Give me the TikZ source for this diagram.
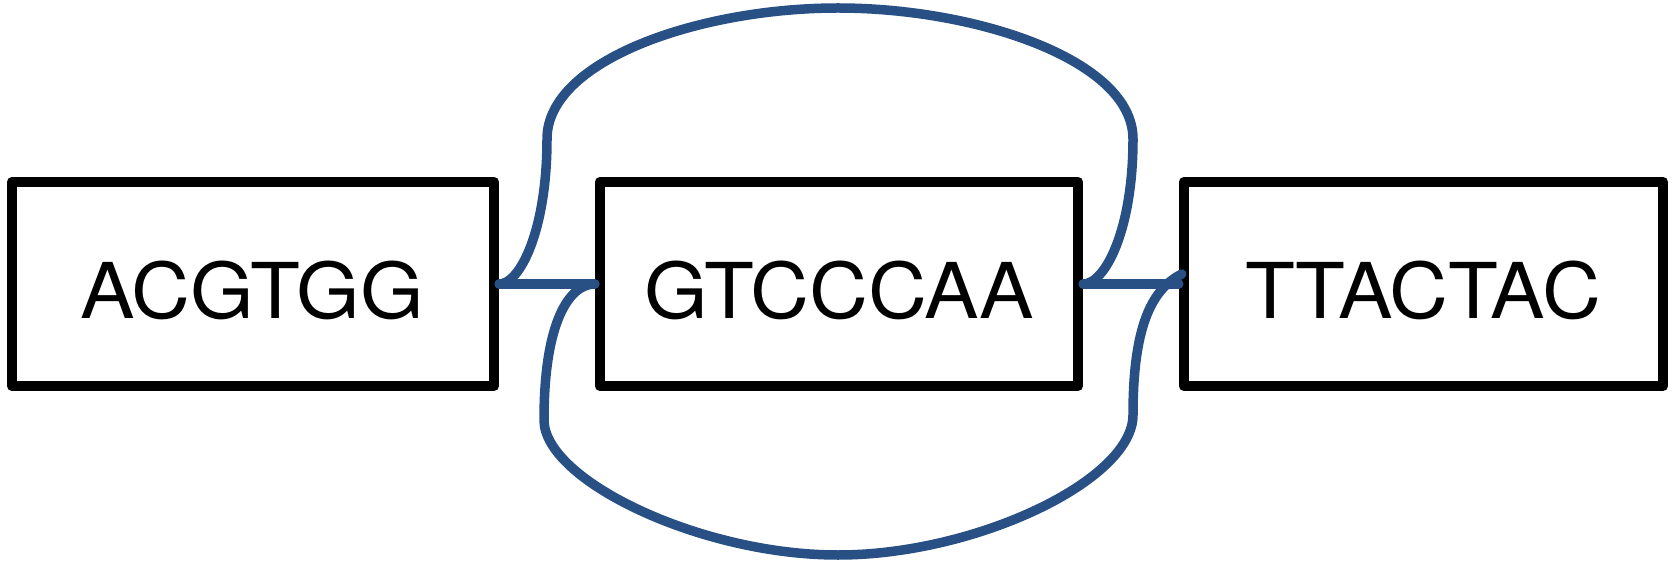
\documentclass[tikz,border=0pt]{standalone}
\usepackage{fontspec}
\setmainfont[FakeStretch=1.06]{TeX Gyre Heros}
\definecolor{linkblue}{RGB}{40,80,132}
\begin{document}
\begin{tikzpicture}[x=1pt,y=-1pt,
  seqbox/.style={draw=black,line width=10.5pt,line join=round,minimum width=482pt,minimum height=204pt,inner sep=0pt},
  seqtext/.style={font=\fontsize{77}{90}\selectfont},
  link/.style={draw=linkblue,line width=9.5pt,line cap=round,line join=round}]
\useasboundingbox (0,0) rectangle (1673,561);
\node[seqbox] (b1) at (253,284) {};
\node[seqbox,minimum width=478pt] (b2) at (839,284) {};
\node[seqbox,minimum width=479pt] (b3) at (1423.5,284) {};
\node[seqtext] (t1) at ([shift={(-1,6)}]b1.center) {ACGTGG};
\node[seqtext] (t2) at ([shift={(0,6)}]b2.center) {GTCCCAA};
\node[seqtext] (t3) at ([shift={(0,6)}]b3.center) {TTACTAC};
\draw[link] (b1.east) -- (b2.west);
\draw[link] (b2.east) -- (b3.west);
\draw[link] (b1.east) .. controls (520,284) and (547,230) .. (547,139)
  .. controls (547,60) and (700,8) .. (838,8)
  .. controls (976,8) and (1133,60) .. (1133,139)
  .. controls (1133,230) and (1105,284) .. (b2.east);
\draw[link] (b2.west) .. controls (570,284) and (544,320) .. (544,420)
  .. controls (544,480) and (700,555) .. (838,555)
  .. controls (976,555) and (1133,480) .. (1133,415)
  .. controls (1133,330) and (1150,290) .. ([shift={(3,-10)}]b3.west);
\end{tikzpicture}
\end{document}
